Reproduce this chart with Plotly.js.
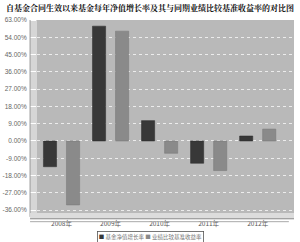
<!DOCTYPE html>
<html>
<head>
<meta charset="utf-8">
<script src="https://cdn.plot.ly/plotly-3.0.1.min.js"></script>
<style>html,body{margin:0;padding:0;background:#fff;}#chart{width:300px;height:242px;}</style>
</head>
<body>
<div id="chart"></div>
<script>
const years = ['2008年', '2009年', '2010年', '2011年', '2012年'];
const fundGrowth = [-13.4, 59.8, 10.6, -11.6, 2.6];
const benchmarkReturn = [-33.3, 57.2, -6.4, -15.4, 6.2];
const seriesNames = ['基金净值增长率', '业绩比较基准收益率'];
const yTicks = [63, 54, 45, 36, 27, 18, 9, 0, -9, -18, -27, -36];
const yTickLabels = ['63.00%', '54.00%', '45.00%', '36.00%', '27.00%', '18.00%', '9.00%', '0.00%', '-9.00%', '-18.00%', '-27.00%', '-36.00%'];
const titleText = '自基金合同生效以来基金每年净值增长率及其与同期业绩比较基准收益率的对比图';

const darkColor = '#383838';
const lightColor = '#8a8a8a';
const cjk = '"Noto Sans CJK SC", "Noto Sans", sans-serif';

const traces = [
  {type: 'bar', x: years, y: fundGrowth, name: seriesNames[0],
   marker: {color: darkColor, line: {color: '#2a2a2a', width: 0.5}}},
  {type: 'bar', x: years, y: benchmarkReturn, name: seriesNames[1],
   marker: {color: lightColor, line: {color: '#777', width: 0.5}}}
];

const layout = {
  width: 300, height: 242,
  margin: {l: 37, r: 6, t: 20, b: 29, pad: 0},
  paper_bgcolor: '#ffffff',
  plot_bgcolor: '#b9b9b9',
  showlegend: false,
  barmode: 'group',
  bargap: 0.06,
  bargroupgap: 0.43,
  title: {text: '<b>' + titleText + '</b>', x: 0.5, xanchor: 'center', y: 0.967, yanchor: 'middle',
          font: {family: '"Noto Serif CJK SC", "Noto Sans CJK SC", serif', size: 8, color: '#111'}},
  xaxis: {
    type: 'category', range: [-0.5, 4.74],
    showgrid: false, zeroline: false, showline: false,
    ticks: '', tickfont: {family: cjk, size: 6.5, color: '#555'},
    ticklabelstandoff: 5
  },
  yaxis: {
    range: [-37.5, 63], tickvals: yTicks, ticktext: yTickLabels,
    tickfont: {family: 'Liberation Sans, Arial, sans-serif', size: 6.5, color: '#666'},
    ticks: 'outside', ticklen: 8, tickcolor: '#ffffff', tickwidth: 1,
    showgrid: true, gridcolor: '#ececec', griddash: 'dot', gridwidth: 1,
    zeroline: false, showline: false
  },
  shapes: [
    {type: 'rect', xref: 'paper', yref: 'paper', x0: -0.027, x1: 0, y0: -0.02, y1: 1,
     fillcolor: '#d6d6d6', line: {width: 0}, layer: 'below'},
    {type: 'line', xref: 'paper', yref: 'paper', x0: -0.027, x1: -0.027, y0: -0.02, y1: 1,
     line: {color: '#9a9a9a', width: 1}},
    {type: 'rect', xref: 'paper', yref: 'paper', x0: -0.027, x1: 1, y0: -0.03, y1: 0,
     fillcolor: '#dcdcdc', line: {width: 0}},
    {type: 'line', xref: 'paper', yref: 'paper', x0: -0.027, x1: 1, y0: -0.03, y1: -0.03,
     line: {color: '#888', width: 1}},
    {type: 'line', xref: 'paper', yref: 'paper', x0: -0.027, x1: 0.98, y0: -0.045, y1: -0.045,
     line: {color: '#aaa', width: 1}}
  ],
  annotations: [
    {xref: 'paper', yref: 'paper', x: 0.44, y: -0.125, xanchor: 'center', yanchor: 'middle',
     showarrow: false, align: 'left',
     bordercolor: '#555', borderwidth: 0.8, borderpad: 1, bgcolor: '#ffffff',
     text: '<span style="color:' + darkColor + '">■</span> ' + seriesNames[0] +
           ' <span style="color:' + lightColor + '">■</span> ' + seriesNames[1],
     font: {family: cjk, size: 5.5, color: '#777'}}
  ]
};

Plotly.newPlot('chart', traces, layout, {displayModeBar: false, staticPlot: true});
</script>
</body>
</html>
